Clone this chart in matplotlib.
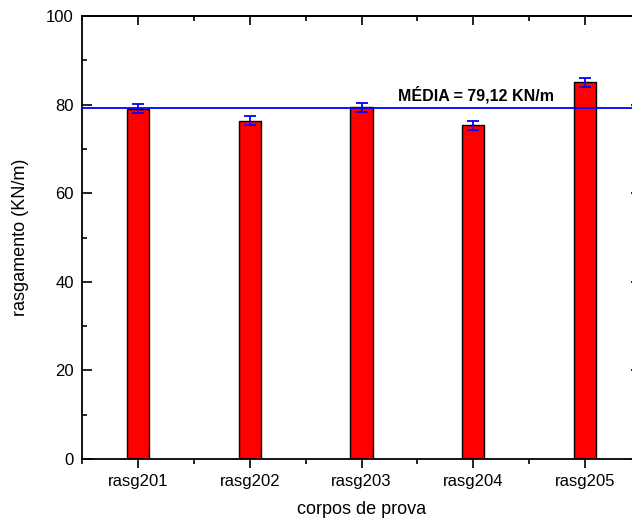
import matplotlib
matplotlib.use("Agg")
import matplotlib.pyplot as plt
from matplotlib.ticker import MultipleLocator

plt.rcParams['font.family'] = ['Liberation Sans', 'DejaVu Sans']

# data
amostras = ['rasg201', 'rasg202', 'rasg203', 'rasg204', 'rasg205']
rasgamento = [79.1, 76.4, 79.4, 75.3, 85.0]
erro = [1.0, 1.0, 1.05, 1.0, 1.1]
media = 79.12

fig = plt.figure(figsize=(6.32, 5.30), dpi=100)
# axes run a bit past the right edge, the original is cropped there
ax = fig.add_axes([82 / 632, 71 / 530, 559 / 632, 443 / 530])

pos = range(1, len(amostras) + 1)
ax.bar(pos, rasgamento, width=0.2, color='#ff0000', edgecolor='black',
       linewidth=1.0, zorder=2)
ax.axhline(media, color='#0000ff', linewidth=1.3, zorder=3)
ax.errorbar(pos, rasgamento, yerr=erro, fmt='none', ecolor='#0000ff',
            elinewidth=1.3, capsize=4, capthick=1.3, zorder=4)

ax.text(4.02, 82.3, 'MÉDIA = 79,12 KN/m', ha='center', va='center',
        fontsize=11.5, fontweight='bold')

ax.set_xlim(0.5, 5.5)
ax.set_ylim(0, 100)
ax.set_xticks(list(pos))
ax.set_xticklabels(amostras)
ax.xaxis.set_minor_locator(MultipleLocator(0.5))
ax.yaxis.set_major_locator(MultipleLocator(20))
ax.yaxis.set_minor_locator(MultipleLocator(10))

for s in ax.spines.values():
    s.set_linewidth(1.3)

ax.tick_params(axis='y', which='both', direction='in', left=True, right=True,
               labelsize=12, width=1.2, pad=6)
ax.tick_params(axis='y', which='major', length=7)
ax.tick_params(axis='y', which='minor', length=3.5)
ax.tick_params(axis='x', which='both', direction='out', top=False,
               labelsize=12, width=1.2, pad=4)
ax.tick_params(axis='x', which='major', length=6.5)
ax.tick_params(axis='x', which='minor', length=3.5)

# inward ticks along the top spine
sec = ax.secondary_xaxis('top')
sec.set_xticks(list(pos))
sec.xaxis.set_minor_locator(MultipleLocator(0.5))
sec.tick_params(which='both', direction='in', labeltop=False, width=1.2)
sec.tick_params(which='major', length=6.5)
sec.tick_params(which='minor', length=3.5)
sec.spines['top'].set_linewidth(1.3)

ax.set_xlabel('corpos de prova', fontsize=13, labelpad=9)
ax.set_ylabel('rasgamento (KN/m)', fontsize=13, labelpad=12)

fig.savefig('out.png', dpi=100)
